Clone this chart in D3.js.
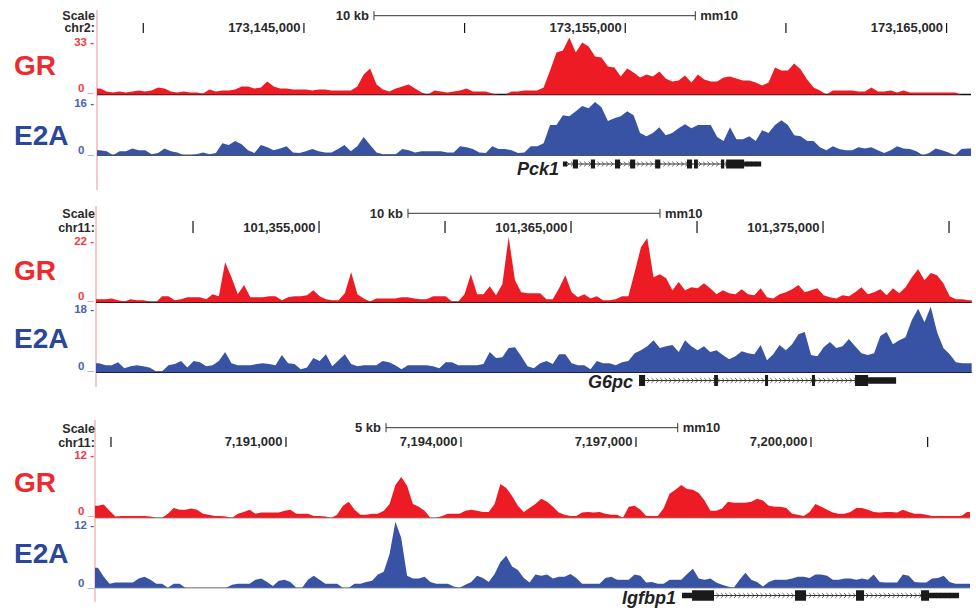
<!DOCTYPE html>
<html>
<head>
<meta charset="utf-8">
<script src="https://cdn.jsdelivr.net/npm/d3@7"></script>
<style>
  body { margin: 0; background: #fff; }
  svg text { font-family: "Liberation Sans", Arial, Helvetica, sans-serif; }
</style>
</head>
<body>
<svg id="chart" width="976" height="616"></svg>
<script>
// ---- data (genomic positions in kb) ----

// panel 1 : Pck1, chr2
const p1Start = 173138.56, p1Bin = 0.2
const p1GR = [3.4,1.7,1.1,1.7,1.1,1.7,2.3,1.7,2.3,3.9,
  3.4,1.7,1.1,1.7,1.1,1.1,0.6,2.8,1.7,2.3,
  2.3,2.8,4.5,4.5,3.4,3.9,7.3,4.5,3.4,3.4,
  2.8,2.8,2.8,2.3,2.8,2.8,2.3,2.3,2.3,2.3,
  4.5,11.3,14.7,5.6,2.8,1.7,3.4,4.5,5.6,3.4,
  1.1,0,2.3,1.7,1.1,1.7,2.3,3.4,1.7,1.7,
  1.7,0.6,0,0,1.7,1.7,2.3,2.3,2.3,3.9,
  13.5,23.7,24.8,32.1,23.7,29.3,27.1,21.4,20.9,15.8,
  15.2,10.2,14.7,12.4,9.6,11.3,10.2,13,9,7.3,
  7.9,10.7,6.8,11.3,8.5,7.3,7.3,9.6,10.2,9,
  7.9,7.9,6.8,5.1,6.8,15.2,13.5,13.5,17.5,14.1,
  8.5,3.9,2.3,0,2.3,2.3,2.3,2.3,1.7,1.7,
  3.9,1.7,1.7,2.3,1.1,2.3,1.1,1.1,1.1,1.1,
  1.1,1.1,1.1,1.1,0,0]
const p1E2A = [1.4,1.1,0,1.1,1.1,1.9,1.4,1.4,0.3,0.6,
  1.9,1.1,0.8,0,0,0.3,0.8,0.3,0.6,3.3,
  2.8,3.9,3.0,1.4,0.6,2.8,2.2,1.4,1.9,2.5,
  0.8,0.6,1.1,1.7,1.1,0.8,0.8,1.7,2.8,1.1,
  2.5,5,2.8,0.8,0.3,0.3,0.3,1.7,1.4,0.8,
  1.1,1.1,1.1,1.1,0.8,0.8,2.5,2.2,1.7,0.8,
  0.6,2.5,1.7,1.7,1.4,0.6,0.8,2.5,2.5,3.3,
  8.3,8.3,11,10.7,12.1,13.5,12.9,14.6,13.2,9.4,
  10.2,10.7,12.1,11,6.1,5.2,6.1,7.7,5.5,6.1,
  7.4,8.5,7.4,8.3,8.3,8.3,5,3.9,7.7,4.4,
  4.4,5.2,3.9,6.9,6.1,8.3,9.6,8.3,5.5,5.2,
  3.9,3.9,2.2,1.4,2.5,1.7,1.4,1.4,2.2,1.9,
  2.2,1.4,0.6,1.4,2.5,1.9,1.7,1.1,0,0.6,
  1.9,1.4,0.8,0,1.7,1.9]
const p1Ticks = [173140, 173145, 173150, 173155, 173160, 173165]
const p1TickLabels = [173145, 173155, 173165]
const p1Exons = [[173153.37,173153.53],[173153.93,173154.06],[173154.68,173154.84],[173155.15,173155.31],
  [173155.93,173156.09],[173156.92,173157.08],[173157.14,173157.26],[173157.98,173158.08],[173158.14,173158.70]]
const p1Utrs = [[173153.06,173153.19],[173158.70,173159.23]]

// panel 2 : G6pc, chr11
const p2Start = 101346.15, p2Bin = 0.25
const p2GR = [1,1,1.3,0.7,0.3,1,0.7,0.7,0.3,0,
  2,2,0.7,1,1.7,1.7,1.7,1,2.7,2,
  13.3,8.3,2.7,5.7,1.7,1.7,1.7,2,2,0.7,
  1.7,2,2,2.3,4,2,1,0.7,0.7,3,
  10,2.7,1.3,0.3,1.3,1.3,1.3,1.3,1.7,1.7,
  1.3,1,1,2,2,2,0.3,0.3,2.7,9.3,
  2.7,2.7,5.3,2.3,6,21.7,7.3,3.3,3,3,
  3,1,1,4.7,9,3.3,1.7,2.7,1.3,2,
  0.7,0.7,1,2,2,10,18.3,21.3,8.3,9.3,
  8,4,6.7,4,5,4.7,6.3,4.7,2.7,4,
  3,2.7,4.3,2.7,2.3,4.7,1.7,1.3,2.7,3.3,
  4.3,5.7,3.3,4,4.7,2.3,1.7,1.3,2.3,2,
  3.3,5,2.7,3.3,4.3,2.3,4.7,3,5,8.3,
  11,7.3,9.7,9,6.3,2,1,1,0.7]
const p2E2A = [2.4,1.9,1.9,2.7,1.1,1.6,1.9,1.6,1.3,0.3,
  0.3,1.9,2.2,3,1.3,3,2.7,1.6,1.9,3,
  5.4,2.4,1.9,1.9,1.9,2.2,2.4,2.2,1.9,4.6,
  2.4,2.2,0.8,1.3,3.8,3,4.8,1.6,3.2,4.8,
  2.2,1.6,1.9,1.9,1.9,3,2.7,1.9,0.8,1.9,
  1.9,1.9,1.9,1.6,1.1,2.7,2.7,1.9,1.9,1.9,
  1.9,2.2,5.4,3.8,4,6.5,6.7,4.3,1.6,1.1,
  2.4,3,2.2,4.8,4.8,2.4,1.9,1.9,0.8,3,
  2.4,2.4,1.9,2.7,3,5.1,5.9,7,8.6,6.5,
  7,7.3,5.4,8.6,7,5.9,7,5.4,5.9,4.6,
  3.5,4.3,5.6,5.1,4.8,7.3,3.2,4.8,7.3,5.9,
  7.5,10.2,10.8,4.6,4.3,6.7,8.1,6.5,7,8.9,
  7,5.1,4.6,5.1,9.7,10.8,7.5,8.6,9.4,14,
  17,13.4,17.5,10.8,6.5,4.8,2.7,2.4,2.4]
const p2Ticks = [101350, 101355, 101360, 101365, 101370, 101375, 101380]
const p2TickLabels = [101355, 101365, 101375]
const p2Exons = [[101367.70,101367.94],[101370.68,101370.83],[101372.70,101372.82],[101374.56,101374.68],[101376.27,101376.79]]
const p2Utrs = [[101376.79,101377.90]]

// panel 3 : Igfbp1, chr11
const p3Start = 7187.726, p3Bin = 0.1
const p3GR = [2.1,2.3,1.2,0.2,0.3,0.3,0.3,0.3,0.3,0.2,
  0,0,0.7,1.7,1.4,1.4,1.6,1.4,0.7,0.5,
  0.3,0.3,0.2,0,0.7,1,1.4,0.7,0.9,0.9,
  0.9,0.9,1.2,1.4,0.7,0.7,0.7,0.3,0.3,0.2,
  0,0.5,2.1,2.8,1.4,0.5,0.5,0.7,0.7,1.2,
  2.4,5.7,7.1,5.6,2.4,1.9,1.2,0,0,0.3,
  0.7,0.7,0.7,1.2,1.4,1.2,1,1,2.4,5.9,
  5.2,3.8,2.1,1,1.7,2.4,3.3,2.8,1.9,0.9,
  0.5,0.3,0.3,0.9,1,0.9,1,0.7,0.5,0.5,
  0,1.9,2.1,1.4,0.3,0.3,0.3,1.7,4.2,4.9,
  5.7,5,4.9,4.3,3,1.2,1.2,1.6,2.8,2.6,
  2.6,2.6,2.8,3.3,3,2.1,1.9,1.9,1.7,0.7,
  0.5,0.3,1,2.4,1.9,1.4,0.9,0.7,0.7,1,
  1.7,1.7,1.4,1,0.9,1,1,0.9,1.4,1,
  0.7,0.7,0.5,0.3,0.3,0.3,0.3,0.3,0.3,1]
const p3E2A = [3.5,1.9,0.7,0.9,0.9,0.9,0.9,1.6,1.9,1.4,
  0.7,0.7,0,0.7,0.7,0,0,0,0,0,
  0,0,0,0.5,0.7,0.7,0.7,1.4,1.6,1,
  0.3,1.2,1.4,1,0,0,1.4,2.1,1.4,0.7,
  0.7,0.7,0,0,0.7,0.7,1,1.2,2.3,2.8,
  5.9,11.5,8.7,2.1,1.6,1.6,1.9,1,0.7,0.7,
  0.7,0.2,0,0.5,1,2.1,1.7,1,2.4,4.5,
  5.6,3.7,3.1,1.7,0.9,2.3,2.1,2.3,1.6,1.9,
  1.9,2.4,1.7,0.7,0.7,0.7,0.7,1.7,1.9,1.4,
  1.4,1.4,2.3,2.1,0.9,1,0.7,0.7,1.4,1.4,
  1.4,2.4,3.3,1.6,1.4,1.6,0.9,0.5,0.2,0,
  1.4,2.6,1.4,1,0.2,1,1.4,1.4,1.4,1.6,
  1.9,1.9,1.7,2.3,2.3,2.1,1.4,1.4,1.6,1.6,
  1.4,1.6,1.4,2.3,1,0.9,0.9,0.9,2.3,2.1,
  1,0.9,0.9,1.6,1.7,2.1,1,0.7,0.7,0.7]
const p3Ticks = [7188, 7191, 7194, 7197, 7200, 7202]
const p3TickLabels = [7191, 7194, 7197, 7200]
const p3Exons = [[7197.961,7198.338],[7199.726,7199.915],[7200.772,7200.910],[7201.887,7202.024]]
const p3Utrs = [[7197.789,7197.961],[7202.024,7202.538]]

// ---- colours ----
const red = "#ed1c24", blue = "#3953a4"
const redLabel = "#ee2a30", blueLabel = "#2b479b"
const ink = "#2a2a2a"

const svg = d3.select("#chart")
const fmt = d3.format(",")

const panels = [
  {chrom: "chr2:", start: p1Start, bin: p1Bin, gr: p1GR, e2a: p1E2A, grMax: 33, e2aMax: 16,
   ticks: p1Ticks, tickLabels: p1TickLabels, scaleKb: 10, scaleFrom: 173147.18,
   gene: "Pck1", exons: p1Exons, utrs: p1Utrs,
   L: {left: 97, right: 971, lineTop: 10, lineBottom: 190, scaleY: 15.7, scaleText: 20, scaleWord: 19.5, chrWord: 32,
       tickTop: 23, tickBottom: 33, grTop: 36, grBase: 94.5, e2aTop: 97, e2aBase: 155.3,
       geneY: 164, thick: 9, thin: 5, geneLabelX: 517, geneLabelY: 175, grWordY: 75, e2aWordY: 145,
       grTopLbl: 46, grZeroLbl: 92, e2aTopLbl: 107, e2aZeroLbl: 154, baseColor: ["#111", "#555"]}},
  {chrom: "chr11:", start: p2Start, bin: p2Bin, gr: p2GR, e2a: p2E2A, grMax: 22, e2aMax: 18,
   ticks: p2Ticks, tickLabels: p2TickLabels, scaleKb: 10, scaleFrom: 101358.53,
   gene: "G6pc", exons: p2Exons, utrs: p2Utrs,
   L: {left: 96, right: 971.7, lineTop: 206, lineBottom: 387, scaleY: 213.3, scaleText: 217.5, scaleWord: 218, chrWord: 231.5,
       tickTop: 221, tickBottom: 233, grTop: 236, grBase: 302.3, e2aTop: 305, e2aBase: 372.3,
       geneY: 380.5, thick: 11, thin: 6.5, geneLabelX: 588, geneLabelY: 388, grWordY: 280, e2aWordY: 348,
       grTopLbl: 245, grZeroLbl: 300, e2aTopLbl: 313, e2aZeroLbl: 370, baseColor: ["#111", "#111"]}},
  {chrom: "chr11:", start: p3Start, bin: p3Bin, gr: p3GR, e2a: p3E2A, grMax: 12, e2aMax: 12,
   ticks: p3Ticks, tickLabels: p3TickLabels, scaleKb: 5, scaleFrom: 7192.715,
   gene: "Igfbp1", exons: p3Exons, utrs: p3Utrs,
   L: {left: 95, right: 970, lineTop: 420, lineBottom: 602, scaleY: 427.7, scaleText: 432, scaleWord: 433, chrWord: 446.5,
       tickTop: 437, tickBottom: 447, grTop: 449, grBase: 517.7, e2aTop: 519, e2aBase: 587.7,
       geneY: 595.5, thick: 10.5, thin: 5.5, geneLabelX: 622, geneLabelY: 604, grWordY: 492, e2aWordY: 563,
       grTopLbl: 459, grZeroLbl: 515, e2aTopLbl: 529, e2aZeroLbl: 587, baseColor: ["#9a9a9a", "#9a9a9a"]}}
]

function drawTrack(g, p, x, values, max, top, base, color, baseColor) {
    let y = d3.scaleLinear().domain([0, max]).range([base, top])
    // one point per bin centre, plus the two ends of the window
    let pts = values.map((v, i) => ({pos: p.start + (i + 0.5) * p.bin, v: v}))
    pts.unshift({pos: p.start, v: values[0]})
    pts.push({pos: p.start + values.length * p.bin, v: values[values.length - 1]})

    g.append("line")
        .attr("x1", p.L.left).attr("x2", p.L.right)
        .attr("y1", base).attr("y2", base)
        .attr("stroke", baseColor).attr("stroke-width", 1.6)

    g.append("path")
        .datum(pts)
        .attr("fill", color)
        .attr("d", d3.area()
            .x(d => x(d.pos))
            .y0(base)
            .y1(d => y(d.v)))
}

panels.forEach(p => {
    let L = p.L
    let end = p.start + p.gr.length * p.bin
    let x = d3.scaleLinear().domain([p.start, end]).range([L.left, L.right])
    let g = svg.append("g")

    // pink left rule
    g.append("line")
        .attr("x1", L.left).attr("x2", L.left)
        .attr("y1", L.lineTop).attr("y2", L.lineBottom)
        .attr("stroke", "#f5a3a3").attr("stroke-width", 1.2)

    // Scale / chrom words
    g.append("text").attr("x", 95).attr("y", L.scaleWord).attr("text-anchor", "end")
        .style("font-size", "12.5px").style("font-weight", "bold").attr("fill", ink).text("Scale")
    g.append("text").attr("x", 95).attr("y", L.chrWord).attr("text-anchor", "end")
        .style("font-size", "12.5px").style("font-weight", "bold").attr("fill", ink).text(p.chrom)

    // scale bar
    let s0 = x(p.scaleFrom), s1 = x(p.scaleFrom + p.scaleKb)
    g.append("line").attr("x1", s0).attr("x2", s1).attr("y1", L.scaleY).attr("y2", L.scaleY)
        .attr("stroke", "#333").attr("stroke-width", 1)
    ;[s0, s1].forEach(sx => {
        g.append("line").attr("x1", sx).attr("x2", sx).attr("y1", L.scaleY - 4.5).attr("y2", L.scaleY + 4.5)
            .attr("stroke", "#333").attr("stroke-width", 1)
    })
    g.append("text").attr("x", s0 - 5).attr("y", L.scaleText).attr("text-anchor", "end")
        .style("font-size", "13px").style("font-weight", "bold").attr("fill", ink).text(p.scaleKb + " kb")
    g.append("text").attr("x", s1 + 5).attr("y", L.scaleText)
        .style("font-size", "13px").style("font-weight", "bold").attr("fill", ink).text("mm10")

    // position ticks
    g.selectAll(".tick").data(p.ticks).enter().append("line")
        .attr("x1", d => x(d)).attr("x2", d => x(d))
        .attr("y1", L.tickTop).attr("y2", L.tickBottom)
        .attr("stroke", "#111").attr("stroke-width", 1.2)
    g.selectAll(".tlabel").data(p.tickLabels).enter().append("text")
        .attr("x", d => x(d) - 3.5).attr("y", L.tickBottom - 1)
        .attr("text-anchor", "end")
        .style("font-size", "13px").style("font-weight", "bold").attr("fill", ink)
        .text(d => fmt(Math.round(d * 1000)))

    // signal tracks
    drawTrack(g, p, x, p.gr, p.grMax, L.grTop, L.grBase, red, L.baseColor[0])
    drawTrack(g, p, x, p.e2a, p.e2aMax, L.e2aTop, L.e2aBase, blue, L.baseColor[1])

    // y-range labels
    let lbl = (txt, yy, col) => g.append("text").attr("x", 94).attr("y", yy).attr("text-anchor", "end")
        .style("font-size", "11.5px").style("font-weight", "bold").attr("fill", col).text(txt)
    lbl(p.grMax + " -", L.grTopLbl, "#ef3b40")
    lbl("0 _", L.grZeroLbl, "#ef3b40")
    lbl(p.e2aMax + " -", L.e2aTopLbl, "#4a64ae")
    lbl("0 _", L.e2aZeroLbl, "#4a64ae")

    // big track names
    g.append("text").attr("x", 14).attr("y", L.grWordY)
        .style("font-size", "28px").style("font-weight", "bold").attr("fill", redLabel).text("GR")
    g.append("text").attr("x", 14).attr("y", L.e2aWordY)
        .style("font-size", "28px").style("font-weight", "bold").attr("fill", blueLabel).text("E2A")

    // gene model
    let gStart = x(p.utrs.concat(p.exons).reduce((a, b) => Math.min(a, b[0]), Infinity))
    let gEnd = x(p.utrs.concat(p.exons).reduce((a, b) => Math.max(a, b[1]), -Infinity))
    g.append("line").attr("x1", gStart).attr("x2", gEnd).attr("y1", L.geneY).attr("y2", L.geneY)
        .attr("stroke", "#333").attr("stroke-width", 1)
    let chev = d3.range(gStart + 5, gEnd - 3, 4.4)
    g.selectAll(".chev").data(chev).enter().append("path")
        .attr("d", d => "M" + (d - 1.4) + "," + (L.geneY - 2.4) + "L" + (d + 1.2) + "," + L.geneY + "L" + (d - 1.4) + "," + (L.geneY + 2.4))
        .attr("fill", "none").attr("stroke", "#444").attr("stroke-width", 0.8)
    g.selectAll(".utr").data(p.utrs).enter().append("rect")
        .attr("x", d => x(d[0])).attr("width", d => Math.max(2, x(d[1]) - x(d[0])))
        .attr("y", L.geneY - L.thin / 2).attr("height", L.thin)
        .attr("fill", "#1a1a1a")
    g.selectAll(".exon").data(p.exons).enter().append("rect")
        .attr("x", d => x(d[0])).attr("width", d => Math.max(2.5, x(d[1]) - x(d[0])))
        .attr("y", L.geneY - L.thick / 2).attr("height", L.thick)
        .attr("fill", "#1a1a1a")
    g.append("text").attr("x", L.geneLabelX).attr("y", L.geneLabelY)
        .style("font-size", "18px").style("font-weight", "bold").style("font-style", "italic")
        .attr("fill", "#222").text(p.gene)
})
</script>
</body>
</html>
